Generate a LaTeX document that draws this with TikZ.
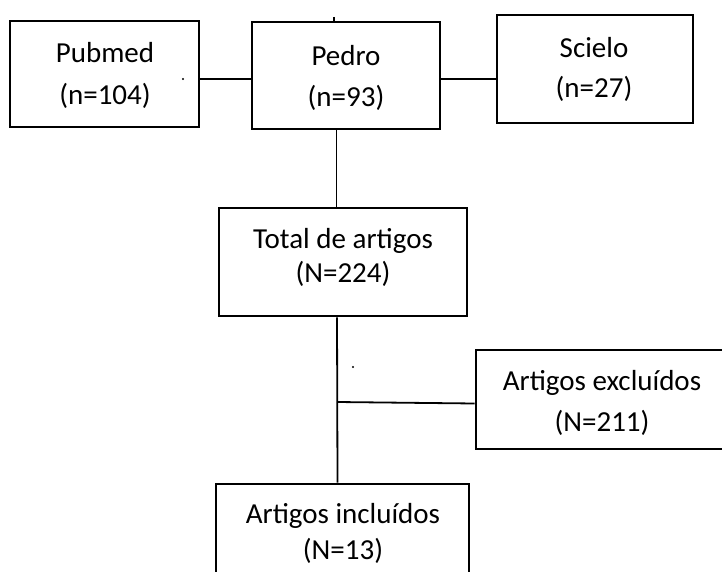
\documentclass[tikz,border=0pt]{standalone}
\usepackage{fontspec}
\setmainfont{Carlito}
\begin{document}
\begin{tikzpicture}[x=1pt,y=-1pt,
  boxnode/.style={draw=black, line width=2.8pt, rectangle, inner sep=0pt},
  txtnode/.style={align=center, inner sep=0pt, font=\fontsize{29}{#1}\selectfont},
  conn/.style={draw=black, line width=1.8pt}]
\useasboundingbox (0,0) rectangle (722,572);
\clip (0,0) rectangle (722,572);
\fill[white] (0,0) rectangle (722,572);
\newcommand{\fs}{\rule{0pt}{23.2pt}}
\newcommand{\ls}{\rule[-8.7pt]{0pt}{8.7pt}}
% boxes
\node[boxnode, minimum width=189pt, minimum height=106pt] (pubmed) at (104.5,74) {};
\node[boxnode, minimum width=188pt, minimum height=107pt] (pedro) at (346,75.5) {};
\node[boxnode, minimum width=196pt, minimum height=108pt] (scielo) at (595,69) {};
\node[boxnode, minimum width=248pt, minimum height=108pt] (total) at (343,262) {};
\node[boxnode, minimum width=268pt, minimum height=99pt] (excl) at (610,399.5) {};
\node[boxnode, minimum width=253pt, minimum height=116pt] (incl) at (342.5,542) {};
% texts
\node[txtnode=42pt] (pubmedT) at (105,76.5) {\fs Pubmed\\(n=104)\ls};
\node[txtnode=41pt] (pedroT) at (346,78.5) {\fs Pedro\\(n=93)\ls};
\node[txtnode=40pt] (scieloT) at (594,70) {\fs Scielo\\(n=27)\ls};
\node[txtnode=34pt] (totalT) at (343,258) {\fs Total de artigos\\(N=224)\ls};
\node[txtnode=41pt] (exclT) at (602,403.5) {\fs Artigos exclu\'idos\\(N=211)\ls};
\node[txtnode=36pt] (inclT) at (343,534) {\fs Artigos inclu\'idos\\(N=13)\ls};
% connectors
\coordinate (tick) at (334,17);
\coordinate (branch) at (337,402);
\draw[conn] ([yshift=-5pt]pubmed.east) -- ([yshift=-3.5pt]pedro.west);
\draw[conn] ([yshift=-3.5pt]pedro.east) -- ([yshift=-10pt]scielo.west);
\draw[conn] (tick) -- (tick |- pedro.north);
\draw[conn] ([xshift=-9.5pt]pedro.south) -- ([xshift=-9.5pt]pedro.south |- total.north);
\draw[conn] ([xshift=-6pt]total.south) -- ([xshift=-5pt]incl.north);
\draw[conn] (branch) -- ([yshift=-4pt]excl.west);
% stray dots
\fill[black] (183,79) circle (1.2pt);
\fill[black] (353,367) circle (1.2pt);
\end{tikzpicture}
\end{document}
